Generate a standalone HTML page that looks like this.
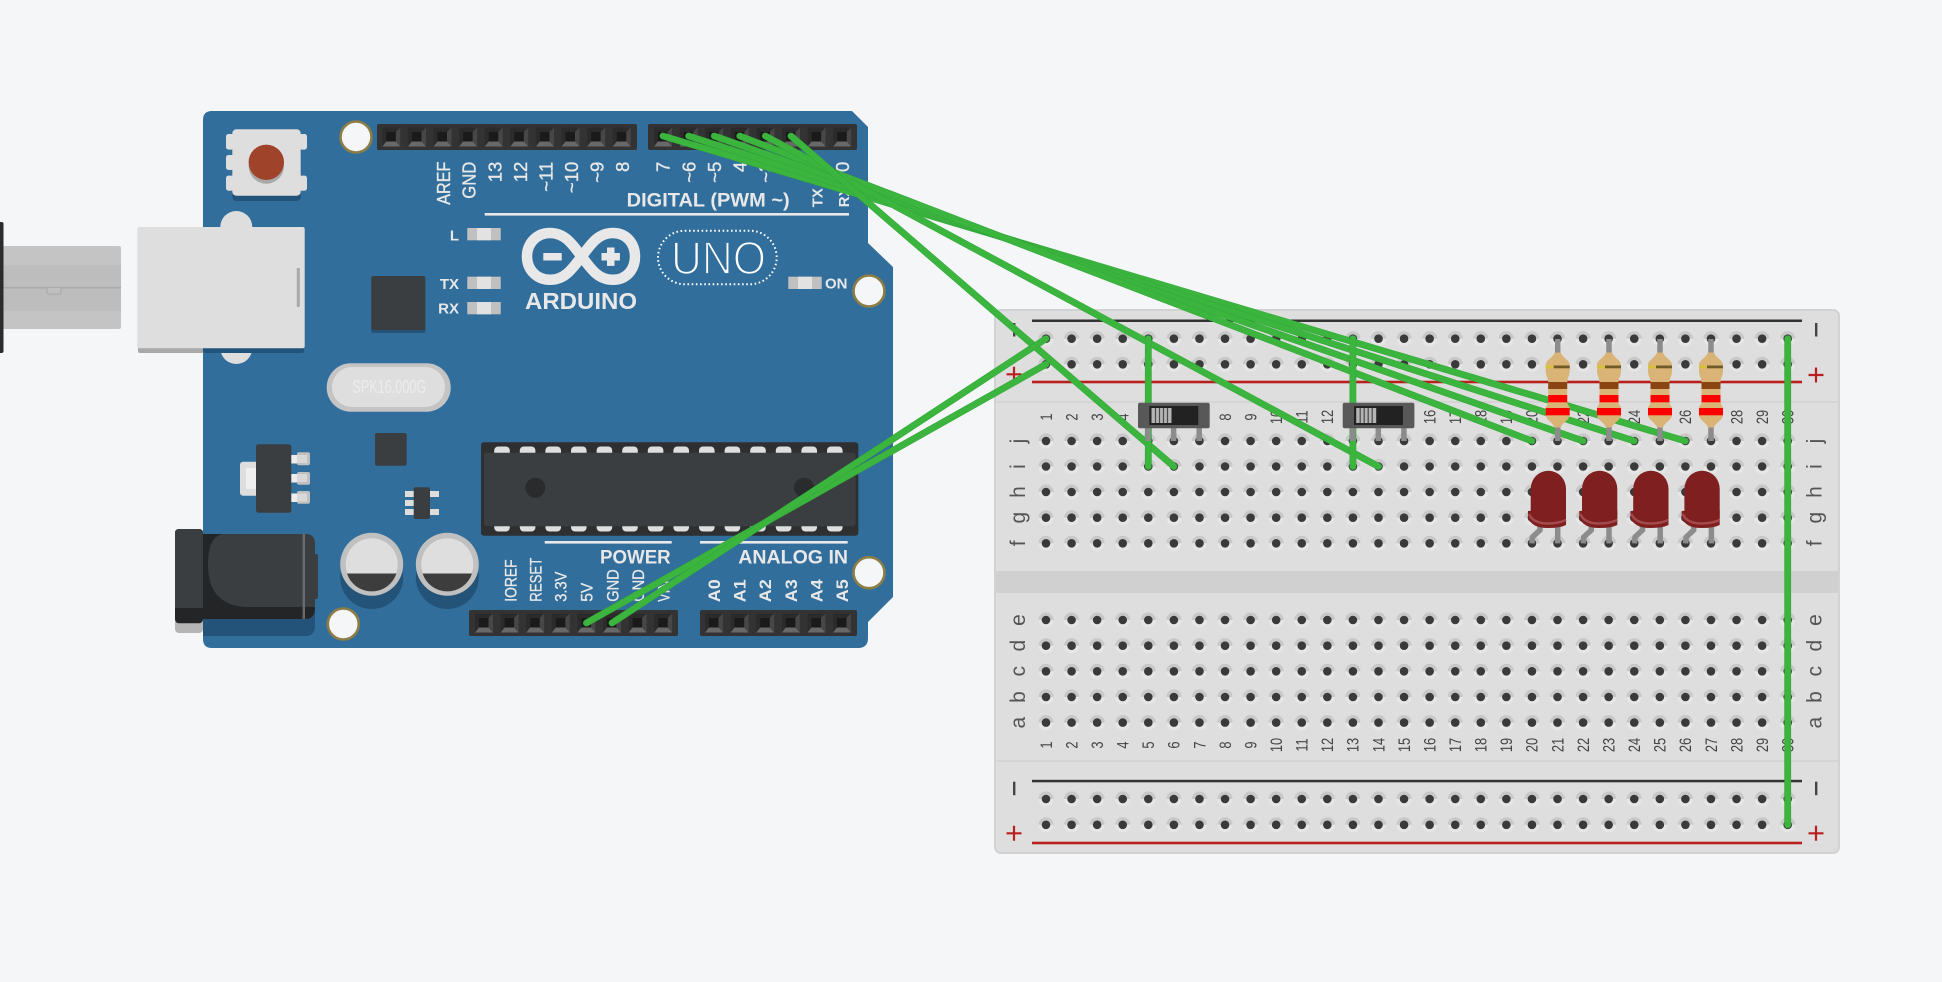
<!DOCTYPE html>
<html><head><meta charset="utf-8"><title>Arduino circuit</title>
<style>html,body{margin:0;padding:0;background:#f4f6f8;overflow:hidden}svg{display:block}text{font-family:"Liberation Sans",sans-serif}</style></head>
<body>
<svg xmlns="http://www.w3.org/2000/svg" width="1942" height="982" viewBox="0 0 1942 982">
<defs>
<g id="p"><rect x="-9" y="-9.5" width="18" height="19" fill="#2b2b2b"/><polygon points="9,-9.5 9,9.5 4.5,4.5 4.5,-5" fill="#474747"/><polygon points="-9,9.5 9,9.5 4.5,4.5 -5,4.5" fill="#686868"/><rect x="-5" y="-5" width="9.5" height="9.5" fill="#1a1a1a"/></g>
<g id="h"><circle r="7.6" fill="#e6e6e6"/><path d="M-7.6,0A7.6,7.6 0 0 1 7.6,0Z" fill="#c8c8c8"/><circle r="4.3" fill="#3a3a3a"/></g>
<g id="r"><use href="#h" x="0"/><use href="#h" x="25.58"/><use href="#h" x="51.15"/><use href="#h" x="76.73"/><use href="#h" x="102.3"/><use href="#h" x="127.88"/><use href="#h" x="153.46"/><use href="#h" x="179.03"/><use href="#h" x="204.61"/><use href="#h" x="230.18"/><use href="#h" x="255.76"/><use href="#h" x="281.34"/><use href="#h" x="306.91"/><use href="#h" x="332.49"/><use href="#h" x="358.06"/><use href="#h" x="383.64"/><use href="#h" x="409.22"/><use href="#h" x="434.79"/><use href="#h" x="460.37"/><use href="#h" x="485.94"/><use href="#h" x="511.52"/><use href="#h" x="537.1"/><use href="#h" x="562.67"/><use href="#h" x="588.25"/><use href="#h" x="613.82"/><use href="#h" x="639.4"/><use href="#h" x="664.98"/><use href="#h" x="690.55"/><use href="#h" x="716.13"/><use href="#h" x="741.7"/></g>
<g id="mh"><circle r="15.5" fill="#f4f6f8" stroke="#8c7d46" stroke-width="2.6"/></g>
<g id="sw">
<line x1="10" y1="428" x2="10" y2="441" stroke="#8c8c8c" stroke-width="5.5"/><line x1="35.6" y1="428" x2="35.6" y2="441" stroke="#8c8c8c" stroke-width="5.5"/><line x1="61.2" y1="428" x2="61.2" y2="441" stroke="#8c8c8c" stroke-width="5.5"/>
<rect x="0" y="402.7" width="71.7" height="25.6" rx="2" fill="#585858"/><rect x="11.3" y="406" width="49" height="19" fill="#222"/>
<rect x="13.5" y="408" width="20" height="15" fill="#b4b4b4"/>
<path d="M17.5,408v15M21.5,408v15M25.5,408v15M29.5,408v15" stroke="#4a4a4a" stroke-width="1.2"/>
</g>
<g id="res">
<line x1="0" y1="339" x2="0" y2="441" stroke="#8c8c8c" stroke-width="5.5"/>
<path d="M-3,352.5C-5,358-12,360-12,365L-12,371C-12,376-9.5,378-9.5,382L-9.5,402C-9.5,405-12,406-12,408L-12,415C-12,420-5,422-3,427.5L3,427.5C5,422 12,420 12,415L12,408C12,406 9.5,405 9.5,402L9.5,382C9.5,378 12,376 12,371L12,365C12,360 5,358 3,352.5Z" fill="#dab477"/>
<rect x="-12" y="365.5" width="8" height="2.8" fill="#d8c23c"/><rect x="-4" y="365.5" width="16" height="2.8" fill="#6f5a28"/>
<rect x="-9.5" y="382" width="19" height="7" fill="#8a4412"/><rect x="-9.5" y="395" width="19" height="7.3" fill="#fe0000"/><rect x="-12" y="408" width="24" height="7.3" fill="#fe0000"/>
</g>
<g id="led">
<line x1="1557.7" y1="526" x2="1557.7" y2="543.4" stroke="#8c8c8c" stroke-width="5.5"/>
<path d="M1540,526L1540,530L1532.5,537L1531.9,543.4" fill="none" stroke="#8c8c8c" stroke-width="5.5"/>
<path d="M1528,511L1528,517Q1531,528 1548,528Q1560,528 1566,525L1566,510Z" fill="#7f1f1f"/>
<path d="M1530.7,489A17.65,18.3 0 0 1 1566,489L1566,518Q1558,521 1548,521Q1534,521 1530.7,512Z" fill="#7f1f1f"/>
<path d="M1529,514Q1533,523.5 1548,523.5Q1558,523.5 1566,520" fill="none" stroke="#a34a4d" stroke-width="2.4"/>
</g>
</defs>

<rect width="1942" height="982" fill="#f4f6f8"/>

<!-- USB plug -->
<rect x="0" y="246" width="121" height="83" rx="2" fill="#c4c4c4"/>
<rect x="0" y="265" width="121" height="46" fill="#bdbdbd"/>
<rect x="0" y="287" width="121" height="1.5" fill="#a9a9a9"/>
<path d="M47,288v4q0,2 2,2h10q2,0 2,-2v-4" fill="#c0c0c0" stroke="#a9a9a9" stroke-width="1"/>
<rect x="-4" y="222" width="7.5" height="131" rx="2" fill="#2c2c2c"/>

<!-- Arduino board -->
<path d="M212,111L852,111L868,127L868,243L893,267L893,597L868,622L868,638Q868,648 858,648L212,648Q203,648 203,639L203,120Q203,111 212,111Z" fill="#316e9b"/>

<!-- Reset -->
<rect x="232.3" y="135" width="68.4" height="66" rx="4" fill="#235378"/>
<rect x="226" y="134" width="8" height="15.6" rx="2.5" fill="#dedede"/><rect x="226" y="155" width="8" height="15" rx="2.5" fill="#dedede"/><rect x="226" y="175.6" width="8" height="15.1" rx="2.5" fill="#dedede"/>
<rect x="299" y="134" width="8" height="15.6" rx="2.5" fill="#dedede"/><rect x="299" y="175.6" width="8" height="15.1" rx="2.5" fill="#dedede"/>
<rect x="232.3" y="129.3" width="68.4" height="66.4" rx="4" fill="#dedede"/>
<circle cx="266.3" cy="166" r="17.7" fill="#a9a9a9"/><circle cx="266.3" cy="162.3" r="17.7" fill="#a0432b"/>

<!-- Mount holes -->
<use href="#mh" x="356" y="137"/><use href="#mh" x="869" y="291"/><use href="#mh" x="869" y="572.7"/><use href="#mh" x="343.3" y="624"/>

<!-- USB socket -->
<circle cx="236.3" cy="227" r="16" fill="#dedede"/><circle cx="236.3" cy="348" r="16" fill="#dedede"/>
<rect x="138" y="340" width="66" height="13" rx="2" fill="#a9a9a9"/><rect x="203" y="340" width="101" height="13" rx="2" fill="#235378"/>
<rect x="137.3" y="227" width="167.4" height="121.3" rx="2" fill="#dedede"/>
<rect x="296.8" y="268" width="3" height="39" fill="#a9a9a9"/>

<!-- Headers -->
<rect x="377" y="124" width="260" height="26" rx="2" fill="#333"/><rect x="648" y="124" width="209" height="26" rx="2" fill="#333"/>
<rect x="469" y="610" width="209" height="26" rx="2" fill="#333"/><rect x="700" y="610" width="157" height="26" rx="2" fill="#333"/>
<use href="#p" x="391.3" y="137"/><use href="#p" x="416.9" y="137"/><use href="#p" x="442.5" y="137"/><use href="#p" x="468.1" y="137"/><use href="#p" x="493.7" y="137"/><use href="#p" x="519.3" y="137"/><use href="#p" x="544.9" y="137"/><use href="#p" x="570.5" y="137"/><use href="#p" x="596.1" y="137"/><use href="#p" x="621.7" y="137"/>
<use href="#p" x="663" y="137"/><use href="#p" x="688.6" y="137"/><use href="#p" x="714.2" y="137"/><use href="#p" x="739.8" y="137"/><use href="#p" x="765.4" y="137"/><use href="#p" x="791" y="137"/><use href="#p" x="816.6" y="137"/><use href="#p" x="842.2" y="137"/>
<use href="#p" x="484" y="623"/><use href="#p" x="509.6" y="623"/><use href="#p" x="535.2" y="623"/><use href="#p" x="560.8" y="623"/><use href="#p" x="586.4" y="623"/><use href="#p" x="612" y="623"/><use href="#p" x="637.6" y="623"/><use href="#p" x="663.2" y="623"/>
<use href="#p" x="714" y="623"/><use href="#p" x="739.6" y="623"/><use href="#p" x="765.2" y="623"/><use href="#p" x="790.8" y="623"/><use href="#p" x="816.4" y="623"/><use href="#p" x="842" y="623"/>

<!-- Top labels -->
<g fill="#e8e8e8" stroke="#e8e8e8" stroke-width=".35" font-size="18.5" text-anchor="end">
<text transform="matrix(0 -1 1 0 450 161.7)" textLength="43" lengthAdjust="spacingAndGlyphs">AREF</text>
<text transform="matrix(0 -1 1 0 475.5 161.7)" textLength="37" lengthAdjust="spacingAndGlyphs">GND</text>
<text transform="matrix(0 -1 1 0 501.5 161.7)">13</text>
<text transform="matrix(0 -1 1 0 527 161.7)">12</text>
<text transform="matrix(0 -1 1 0 552.5 161.7)">~11</text>
<text transform="matrix(0 -1 1 0 578 161.7)">~10</text>
<text transform="matrix(0 -1 1 0 603.5 161.7)">~9</text>
<text transform="matrix(0 -1 1 0 629 161.7)">8</text>
<text transform="matrix(0 -1 1 0 669.7 161.7)">7</text>
<text transform="matrix(0 -1 1 0 695.3 161.7)">~6</text>
<text transform="matrix(0 -1 1 0 720.9 161.7)">~5</text>
<text transform="matrix(0 -1 1 0 746.5 161.7)">4</text>
<text transform="matrix(0 -1 1 0 772 161.7)">~3</text>
<text transform="matrix(0 -1 1 0 797.7 161.7)">2</text>
<text transform="matrix(0 -1 1 0 823.3 161.7)">1</text>
<text transform="matrix(0 -1 1 0 849 161.7)">0</text>
</g>
<g fill="#e8e8e8" font-size="15" font-weight="bold">
<text transform="matrix(0 -1 1 0 822.7 207.3)">TX</text>
<text transform="matrix(0 -1 1 0 849 207.3)">RX</text>
</g>
<text x="626.7" y="206.5" fill="#e8e8e8" font-size="19" font-weight="bold" textLength="163" lengthAdjust="spacingAndGlyphs">DIGITAL (PWM ~)</text>
<rect x="484.7" y="213" width="364.3" height="2.6" fill="#e8e8e8"/>

<!-- LEDs on board -->
<g>
<rect x="467.3" y="228" width="33.4" height="12.3" fill="#c0c0c0"/><rect x="477" y="228" width="14" height="12.3" fill="#e2e2e2"/>
<rect x="467.3" y="276.7" width="33.4" height="12.3" fill="#c0c0c0"/><rect x="477" y="276.7" width="14" height="12.3" fill="#e2e2e2"/>
<rect x="467.3" y="302" width="33.4" height="12.3" fill="#c0c0c0"/><rect x="477" y="302" width="14" height="12.3" fill="#e2e2e2"/>
<rect x="788.3" y="276.7" width="33.4" height="12.3" fill="#c0c0c0"/><rect x="798" y="276.7" width="14" height="12.3" fill="#e2e2e2"/>
</g>
<g fill="#e8e8e8" font-size="15" font-weight="bold">
<text x="459" y="240.5" text-anchor="end">L</text>
<text x="459" y="289" text-anchor="end">TX</text>
<text x="459" y="313.5" text-anchor="end">RX</text>
<text x="825" y="288.5">ON</text>
</g>

<!-- Logo -->
<path d="M581.7,256.5C572,244 565,233 550,233C536,233 527,244 527,256.5C527,269 536,279.8 550,279.8C565,279.8 572,269 581.7,256.5C591,244 598,233 613,233C627,233 635,244 635,256.5C635,269 627,279.8 613,279.8C598,279.8 591,269 581.7,256.5Z" fill="none" stroke="#e8e8e8" stroke-width="10.5"/>
<rect x="543.3" y="253" width="18.4" height="7.5" fill="#e8e8e8"/>
<rect x="601.5" y="253" width="18.4" height="7.5" fill="#e8e8e8"/><rect x="607" y="247.5" width="7.5" height="18.4" fill="#e8e8e8"/>
<text x="525" y="309" fill="#e8e8e8" font-size="23" font-weight="bold" textLength="112" lengthAdjust="spacingAndGlyphs">ARDUINO</text>
<rect x="658" y="230.7" width="118.7" height="53.6" rx="26.8" fill="none" stroke="#fff" stroke-width="2" stroke-dasharray="1.6 2.6"/>
<text x="671" y="274" fill="#fff" stroke="#316e9b" stroke-width="1.8" font-size="46" textLength="95" lengthAdjust="spacingAndGlyphs">UNO</text>

<!-- Square chip -->
<rect x="371.3" y="279" width="54" height="54" rx="2" fill="#235378"/><rect x="371.3" y="276" width="54" height="54" rx="2" fill="#3b3e40"/>

<!-- Crystal -->
<rect x="326.7" y="363.3" width="124" height="48.4" rx="24" fill="#c4c4c4"/><rect x="332" y="367" width="113" height="40" rx="20" fill="#dedede"/>
<text x="352.3" y="393" fill="#ececec" font-size="18" textLength="74" lengthAdjust="spacingAndGlyphs">SPK16.000G</text>

<!-- Regulator -->
<rect x="240" y="461.7" width="20" height="34" rx="3" fill="#dedede"/><rect x="246" y="468" width="14" height="21" fill="#efefef"/>
<rect x="288" y="455" width="12" height="8.5" fill="#ededed"/><rect x="288" y="474" width="12" height="8.5" fill="#ededed"/><rect x="288" y="493.5" width="12" height="8.5" fill="#ededed"/>
<rect x="297" y="452.3" width="13" height="13" rx="2" fill="#c0c0c0"/><rect x="297" y="472" width="13" height="12.7" rx="2" fill="#c0c0c0"/><rect x="297" y="491" width="13" height="12.7" rx="2" fill="#c0c0c0"/>
<rect x="297" y="455" width="10" height="8" fill="#d8d8d8"/><rect x="297" y="474" width="10" height="8" fill="#d8d8d8"/><rect x="297" y="493.5" width="10" height="8" fill="#d8d8d8"/>
<rect x="256" y="444.3" width="35.3" height="68.4" rx="2.5" fill="#3b3e40"/>

<rect x="375" y="433" width="31.7" height="32.7" rx="2" fill="#3b3e40"/>
<g fill="#dedede"><rect x="405" y="491" width="10" height="6"/><rect x="405" y="500" width="10" height="6"/><rect x="405" y="509" width="10" height="6"/><rect x="429" y="491" width="10" height="6"/><rect x="429" y="509" width="10" height="6"/></g>
<rect x="413.7" y="487.3" width="16.3" height="31.7" rx="2" fill="#3b3e40"/>

<!-- ATmega -->
<rect x="481" y="442.3" width="377.3" height="93.4" rx="3" fill="#2d2f30"/>
<g fill="#dedede">
<rect x="494.2" y="446.5" width="15.6" height="12" rx="4"/><rect x="519.8" y="446.5" width="15.6" height="12" rx="4"/><rect x="545.4" y="446.5" width="15.6" height="12" rx="4"/><rect x="571" y="446.5" width="15.6" height="12" rx="4"/><rect x="596.6" y="446.5" width="15.6" height="12" rx="4"/><rect x="622.2" y="446.5" width="15.6" height="12" rx="4"/><rect x="647.8" y="446.5" width="15.6" height="12" rx="4"/><rect x="673.4" y="446.5" width="15.6" height="12" rx="4"/><rect x="699" y="446.5" width="15.6" height="12" rx="4"/><rect x="724.6" y="446.5" width="15.6" height="12" rx="4"/><rect x="750.2" y="446.5" width="15.6" height="12" rx="4"/><rect x="775.8" y="446.5" width="15.6" height="12" rx="4"/><rect x="801.4" y="446.5" width="15.6" height="12" rx="4"/><rect x="827" y="446.5" width="15.6" height="12" rx="4"/>
<rect x="494.2" y="520" width="15.6" height="11.5" rx="4"/><rect x="519.8" y="520" width="15.6" height="11.5" rx="4"/><rect x="545.4" y="520" width="15.6" height="11.5" rx="4"/><rect x="571" y="520" width="15.6" height="11.5" rx="4"/><rect x="596.6" y="520" width="15.6" height="11.5" rx="4"/><rect x="622.2" y="520" width="15.6" height="11.5" rx="4"/><rect x="647.8" y="520" width="15.6" height="11.5" rx="4"/><rect x="673.4" y="520" width="15.6" height="11.5" rx="4"/><rect x="699" y="520" width="15.6" height="11.5" rx="4"/><rect x="724.6" y="520" width="15.6" height="11.5" rx="4"/><rect x="750.2" y="520" width="15.6" height="11.5" rx="4"/><rect x="775.8" y="520" width="15.6" height="11.5" rx="4"/><rect x="801.4" y="520" width="15.6" height="11.5" rx="4"/><rect x="827" y="520" width="15.6" height="11.5" rx="4"/>
</g>
<rect x="484" y="452.7" width="371.7" height="73.5" rx="3" fill="#3b3e40"/>
<circle cx="535.3" cy="487.7" r="10" fill="#292b2c"/><circle cx="804" cy="487.7" r="10" fill="#292b2c"/>

<!-- Capacitors -->
<circle cx="371.7" cy="577.5" r="31.5" fill="#235378"/><circle cx="447.3" cy="577.5" r="31.5" fill="#235378"/>
<circle cx="371.7" cy="564.3" r="31.5" fill="#c0c0c0"/><circle cx="447.3" cy="564.3" r="31.5" fill="#c0c0c0"/>
<circle cx="371.7" cy="564.3" r="26" fill="#dedede"/><circle cx="447.3" cy="564.3" r="26" fill="#dedede"/>
<path d="M347,573.5L396.4,573.5A26,26 0 0 1 347,573.5Z" fill="#3d3d3d"/><path d="M422.6,573.5L472,573.5A26,26 0 0 1 422.6,573.5Z" fill="#3d3d3d"/>

<!-- Barrel jack -->
<path d="M203,600L315,600L315,626Q315,636 305,636L203,636Z" fill="#235378"/>
<rect x="175" y="610" width="28" height="23" rx="4" fill="#b5b5b5"/>
<path d="M203,534L305,534Q315,534 315,544L315,608Q315,619 305,619L203,619Z" fill="#232526"/>
<path d="M240,534L305,534Q315,534 315,544L315,607L246,607Q208,605 208,565Q208,534 225,534Z" fill="#3b3e40"/>
<rect x="313" y="554" width="5" height="45" rx="2" fill="#3b3e40"/>
<rect x="302.6" y="534" width="2.4" height="85" fill="#6b6b6b"/>
<rect x="175" y="529" width="28" height="94.3" rx="4" fill="#232526"/>
<path d="M179,529L199,529Q203,529 203,533L203,608L175,608L175,533Q175,529 179,529Z" fill="#3b3e40"/>

<!-- Power labels -->
<rect x="544.7" y="541" width="127" height="2.6" fill="#e8e8e8"/><rect x="700" y="541" width="147.7" height="2.6" fill="#e8e8e8"/>
<text x="600" y="563.5" fill="#e8e8e8" font-size="19" font-weight="bold" textLength="70.7" lengthAdjust="spacingAndGlyphs">POWER</text>
<text x="738.3" y="563.5" fill="#e8e8e8" font-size="19" font-weight="bold" textLength="109.7" lengthAdjust="spacingAndGlyphs">ANALOG IN</text>
<g fill="#e8e8e8" stroke="#e8e8e8" stroke-width=".3" font-size="16.5">
<text transform="matrix(0 -1 1 0 516.7 601.7)" textLength="42.3" lengthAdjust="spacingAndGlyphs">IOREF</text>
<text transform="matrix(0 -1 1 0 541.7 601.7)" textLength="44" lengthAdjust="spacingAndGlyphs">RESET</text>
<text transform="matrix(0 -1 1 0 566.7 601.7)" textLength="30" lengthAdjust="spacingAndGlyphs">3.3V</text>
<text transform="matrix(0 -1 1 0 592.7 601.7)" textLength="19" lengthAdjust="spacingAndGlyphs">5V</text>
<text transform="matrix(0 -1 1 0 618.3 601.7)" textLength="32.4" lengthAdjust="spacingAndGlyphs">GND</text>
<text transform="matrix(0 -1 1 0 644 601.7)" textLength="32.4" lengthAdjust="spacingAndGlyphs">GND</text>
<text transform="matrix(0 -1 1 0 669.5 601.7)" textLength="21" lengthAdjust="spacingAndGlyphs">VIN</text>
</g>
<g fill="#e8e8e8" font-size="17" font-weight="bold">
<text transform="matrix(0 -1 1 0 720 602.3)" textLength="23" lengthAdjust="spacingAndGlyphs">A0</text>
<text transform="matrix(0 -1 1 0 745.6 602.3)" textLength="23" lengthAdjust="spacingAndGlyphs">A1</text>
<text transform="matrix(0 -1 1 0 771.2 602.3)" textLength="23" lengthAdjust="spacingAndGlyphs">A2</text>
<text transform="matrix(0 -1 1 0 796.8 602.3)" textLength="23" lengthAdjust="spacingAndGlyphs">A3</text>
<text transform="matrix(0 -1 1 0 822.4 602.3)" textLength="23" lengthAdjust="spacingAndGlyphs">A4</text>
<text transform="matrix(0 -1 1 0 848 602.3)" textLength="23" lengthAdjust="spacingAndGlyphs">A5</text>
</g>

<!-- Breadboard -->
<rect x="995" y="310" width="844" height="543" rx="6" fill="#dedede" stroke="#d2d2d2" stroke-width="2"/>
<rect x="996" y="401" width="842" height="2" fill="#d4d4d4"/><rect x="996" y="760" width="842" height="2" fill="#d4d4d4"/>
<rect x="996" y="571" width="842" height="22" fill="#d0d0d0"/>
<rect x="1032" y="319.5" width="770" height="2.5" fill="#333"/><rect x="1032" y="380.7" width="770" height="2.6" fill="#b82020"/>
<rect x="1032" y="779.8" width="770" height="2.5" fill="#333"/><rect x="1032" y="841.7" width="770" height="2.6" fill="#b82020"/>

<use href="#r" x="1046" y="338.7"/><use href="#r" x="1046" y="364.3"/>
<use href="#r" x="1046" y="441"/><use href="#r" x="1046" y="466.5"/><use href="#r" x="1046" y="492"/><use href="#r" x="1046" y="517.7"/><use href="#r" x="1046" y="543.3"/>
<use href="#r" x="1046" y="620"/><use href="#r" x="1046" y="645.7"/><use href="#r" x="1046" y="671.3"/><use href="#r" x="1046" y="697"/><use href="#r" x="1046" y="722.6"/>
<use href="#r" x="1046" y="799"/><use href="#r" x="1046" y="824.8"/>

<!-- Rail symbols -->
<g fill="#444"><rect x="1013" y="323" width="2.4" height="13.5"/><rect x="1815" y="323" width="2.4" height="13.5"/><rect x="1013" y="781.7" width="2.4" height="13.5"/><rect x="1815" y="781.7" width="2.4" height="13.5"/></g>
<path d="M1006.5,374.3h15M1014,366.8v15M1808.5,375h15M1816,367.5v15M1006.5,833.3h15M1014,825.8v15M1808.5,833.3h15M1816,825.8v15" stroke="#b82020" stroke-width="2.2"/>

<!-- Row letters -->
<g fill="#555" font-size="21" text-anchor="middle">
<text transform="matrix(0 -1 1 0 1025 441)">j</text><text transform="matrix(0 -1 1 0 1025 466.5)">i</text><text transform="matrix(0 -1 1 0 1025 492)">h</text><text transform="matrix(0 -1 1 0 1025 517.7)">g</text><text transform="matrix(0 -1 1 0 1025 543.3)">f</text>
<text transform="matrix(0 -1 1 0 1025 620)">e</text><text transform="matrix(0 -1 1 0 1025 645.7)">d</text><text transform="matrix(0 -1 1 0 1025 671.3)">c</text><text transform="matrix(0 -1 1 0 1025 697)">b</text><text transform="matrix(0 -1 1 0 1025 722.6)">a</text>
<text transform="matrix(0 -1 1 0 1821.5 441)">j</text><text transform="matrix(0 -1 1 0 1821.5 466.5)">i</text><text transform="matrix(0 -1 1 0 1821.5 492)">h</text><text transform="matrix(0 -1 1 0 1821.5 517.7)">g</text><text transform="matrix(0 -1 1 0 1821.5 543.3)">f</text>
<text transform="matrix(0 -1 1 0 1821.5 620)">e</text><text transform="matrix(0 -1 1 0 1821.5 645.7)">d</text><text transform="matrix(0 -1 1 0 1821.5 671.3)">c</text><text transform="matrix(0 -1 1 0 1821.5 697)">b</text><text transform="matrix(0 -1 1 0 1821.5 722.6)">a</text>
</g>

<!-- Column numbers -->
<g fill="#444" font-size="16.5" text-anchor="middle">
<text transform="matrix(0 -.78 1 0 1051.8 417)">1</text><text transform="matrix(0 -.78 1 0 1077.4 417)">2</text><text transform="matrix(0 -.78 1 0 1103 417)">3</text><text transform="matrix(0 -.78 1 0 1128.5 417)">4</text><text transform="matrix(0 -.78 1 0 1154.1 417)">5</text><text transform="matrix(0 -.78 1 0 1179.7 417)">6</text><text transform="matrix(0 -.78 1 0 1205.3 417)">7</text><text transform="matrix(0 -.78 1 0 1230.8 417)">8</text><text transform="matrix(0 -.78 1 0 1256.4 417)">9</text><text transform="matrix(0 -.78 1 0 1282 417)">10</text><text transform="matrix(0 -.78 1 0 1307.6 417)">11</text><text transform="matrix(0 -.78 1 0 1333.1 417)">12</text><text transform="matrix(0 -.78 1 0 1358.7 417)">13</text><text transform="matrix(0 -.78 1 0 1384.3 417)">14</text><text transform="matrix(0 -.78 1 0 1409.9 417)">15</text><text transform="matrix(0 -.78 1 0 1435.4 417)">16</text><text transform="matrix(0 -.78 1 0 1461 417)">17</text><text transform="matrix(0 -.78 1 0 1486.6 417)">18</text><text transform="matrix(0 -.78 1 0 1512.2 417)">19</text><text transform="matrix(0 -.78 1 0 1537.7 417)">20</text><text transform="matrix(0 -.78 1 0 1563.3 417)">21</text><text transform="matrix(0 -.78 1 0 1588.9 417)">22</text><text transform="matrix(0 -.78 1 0 1614.5 417)">23</text><text transform="matrix(0 -.78 1 0 1640 417)">24</text><text transform="matrix(0 -.78 1 0 1665.6 417)">25</text><text transform="matrix(0 -.78 1 0 1691.2 417)">26</text><text transform="matrix(0 -.78 1 0 1716.8 417)">27</text><text transform="matrix(0 -.78 1 0 1742.3 417)">28</text><text transform="matrix(0 -.78 1 0 1767.9 417)">29</text><text transform="matrix(0 -.78 1 0 1793.5 417)">30</text>
<text transform="matrix(0 -.78 1 0 1051.8 745)">1</text><text transform="matrix(0 -.78 1 0 1077.4 745)">2</text><text transform="matrix(0 -.78 1 0 1103 745)">3</text><text transform="matrix(0 -.78 1 0 1128.5 745)">4</text><text transform="matrix(0 -.78 1 0 1154.1 745)">5</text><text transform="matrix(0 -.78 1 0 1179.7 745)">6</text><text transform="matrix(0 -.78 1 0 1205.3 745)">7</text><text transform="matrix(0 -.78 1 0 1230.8 745)">8</text><text transform="matrix(0 -.78 1 0 1256.4 745)">9</text><text transform="matrix(0 -.78 1 0 1282 745)">10</text><text transform="matrix(0 -.78 1 0 1307.6 745)">11</text><text transform="matrix(0 -.78 1 0 1333.1 745)">12</text><text transform="matrix(0 -.78 1 0 1358.7 745)">13</text><text transform="matrix(0 -.78 1 0 1384.3 745)">14</text><text transform="matrix(0 -.78 1 0 1409.9 745)">15</text><text transform="matrix(0 -.78 1 0 1435.4 745)">16</text><text transform="matrix(0 -.78 1 0 1461 745)">17</text><text transform="matrix(0 -.78 1 0 1486.6 745)">18</text><text transform="matrix(0 -.78 1 0 1512.2 745)">19</text><text transform="matrix(0 -.78 1 0 1537.7 745)">20</text><text transform="matrix(0 -.78 1 0 1563.3 745)">21</text><text transform="matrix(0 -.78 1 0 1588.9 745)">22</text><text transform="matrix(0 -.78 1 0 1614.5 745)">23</text><text transform="matrix(0 -.78 1 0 1640 745)">24</text><text transform="matrix(0 -.78 1 0 1665.6 745)">25</text><text transform="matrix(0 -.78 1 0 1691.2 745)">26</text><text transform="matrix(0 -.78 1 0 1716.8 745)">27</text><text transform="matrix(0 -.78 1 0 1742.3 745)">28</text><text transform="matrix(0 -.78 1 0 1767.9 745)">29</text><text transform="matrix(0 -.78 1 0 1793.5 745)">30</text>
</g>

<!-- Wires -->
<g stroke-linecap="round" fill="none">
<line x1="663" y1="136" x2="1685.4" y2="441" stroke="#33a63a" stroke-width="6.8"/><line x1="663" y1="136" x2="1685.4" y2="441" stroke="#3cb53f" stroke-width="5.8"/>
<line x1="688.6" y1="136" x2="1634.2" y2="441" stroke="#33a63a" stroke-width="6.8"/><line x1="688.6" y1="136" x2="1634.2" y2="441" stroke="#3cb53f" stroke-width="5.8"/>
<line x1="714.2" y1="136" x2="1583.1" y2="441" stroke="#33a63a" stroke-width="6.8"/><line x1="714.2" y1="136" x2="1583.1" y2="441" stroke="#3cb53f" stroke-width="5.8"/>
<line x1="739.8" y1="136" x2="1531.9" y2="441" stroke="#33a63a" stroke-width="6.8"/><line x1="739.8" y1="136" x2="1531.9" y2="441" stroke="#3cb53f" stroke-width="5.8"/>
<line x1="765.4" y1="136" x2="1378.5" y2="466.5" stroke="#33a63a" stroke-width="6.8"/><line x1="765.4" y1="136" x2="1378.5" y2="466.5" stroke="#3cb53f" stroke-width="5.8"/>
<line x1="791" y1="136" x2="1173.9" y2="466.5" stroke="#33a63a" stroke-width="6.8"/><line x1="791" y1="136" x2="1173.9" y2="466.5" stroke="#3cb53f" stroke-width="5.8"/>
<line x1="586.4" y1="623" x2="1046" y2="364.3" stroke="#33a63a" stroke-width="6.8"/><line x1="586.4" y1="623" x2="1046" y2="364.3" stroke="#3cb53f" stroke-width="5.8"/>
<line x1="612" y1="623" x2="1046" y2="338.7" stroke="#33a63a" stroke-width="6.8"/><line x1="612" y1="623" x2="1046" y2="338.7" stroke="#3cb53f" stroke-width="5.8"/>
<line x1="1148.3" y1="338.7" x2="1148.3" y2="466.5" stroke="#33a63a" stroke-width="6.8"/><line x1="1148.3" y1="338.7" x2="1148.3" y2="466.5" stroke="#3cb53f" stroke-width="5.8"/>
<line x1="1352.9" y1="338.7" x2="1352.9" y2="466.5" stroke="#33a63a" stroke-width="6.8"/><line x1="1352.9" y1="338.7" x2="1352.9" y2="466.5" stroke="#3cb53f" stroke-width="5.8"/>
<line x1="1787.7" y1="338.7" x2="1787.7" y2="824.8" stroke="#33a63a" stroke-width="6.8"/><line x1="1787.7" y1="338.7" x2="1787.7" y2="824.8" stroke="#3cb53f" stroke-width="5.8"/>
</g>

<!-- Components -->
<use href="#sw" x="1138"/><use href="#sw" x="1342.7"/>
<use href="#res" x="1557.7"/><use href="#res" x="1609"/><use href="#res" x="1660"/><use href="#res" x="1711"/>
<use href="#led"/><use href="#led" x="51.3"/><use href="#led" x="102.5"/><use href="#led" x="153.7"/>
</svg>
</body></html>
